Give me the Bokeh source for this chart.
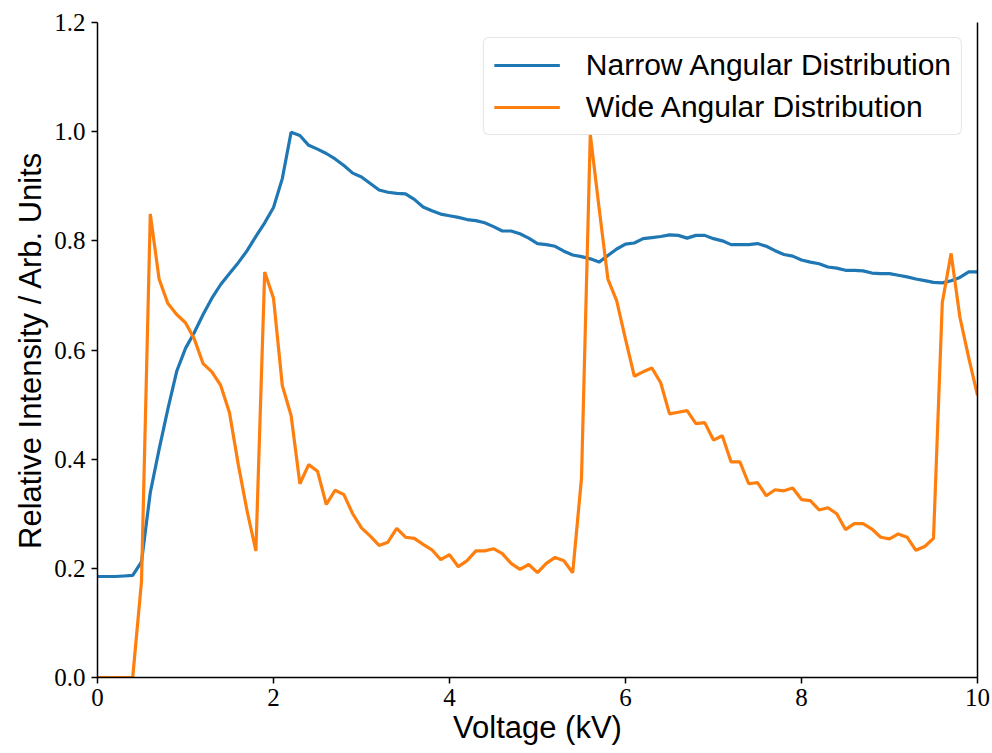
from bokeh.plotting import figure
from bokeh.models import Range1d, FixedTicker, LinearAxis, Legend, LegendItem, PrintfTickFormatter
from bokeh.embed import file_html
from bokeh.resources import INLINE

voltage = [round(0.1 * i, 1) for i in range(101)]

narrow = [0.185, 0.185, 0.185, 0.186, 0.187, 0.212, 0.339, 0.418, 0.492, 0.561,
          0.603, 0.632, 0.665, 0.695, 0.720, 0.740, 0.760, 0.782, 0.808, 0.833,
          0.861, 0.914, 0.999, 0.993, 0.975, 0.968, 0.960, 0.950, 0.938, 0.924,
          0.917, 0.905, 0.893, 0.889, 0.887, 0.886, 0.876, 0.862, 0.855, 0.849,
          0.846, 0.843, 0.839, 0.837, 0.833, 0.826, 0.818, 0.818, 0.813, 0.805,
          0.795, 0.793, 0.790, 0.781, 0.774, 0.771, 0.767, 0.761, 0.773, 0.785,
          0.794, 0.796, 0.804, 0.806, 0.808, 0.811, 0.810, 0.805, 0.810, 0.810,
          0.804, 0.800, 0.793, 0.793, 0.793, 0.795, 0.790, 0.782, 0.775, 0.772,
          0.765, 0.761, 0.758, 0.752, 0.750, 0.746, 0.746, 0.745, 0.741, 0.740,
          0.740, 0.737, 0.734, 0.730, 0.727, 0.724, 0.723, 0.727, 0.733, 0.743,
          0.743]

wide = [0.0, 0.0, 0.0, 0.0, 0.0, 0.176, 0.849, 0.730, 0.685, 0.665,
        0.650, 0.620, 0.575, 0.560, 0.535, 0.485, 0.390, 0.305, 0.232, 0.743,
        0.695, 0.535, 0.480, 0.355, 0.390, 0.378, 0.317, 0.343, 0.335, 0.300,
        0.274, 0.259, 0.242, 0.248, 0.273, 0.257, 0.255, 0.244, 0.234, 0.216,
        0.225, 0.203, 0.214, 0.232, 0.232, 0.236, 0.227, 0.209, 0.198, 0.207,
        0.192, 0.209, 0.220, 0.214, 0.192, 0.365, 0.995, 0.860, 0.730, 0.690,
        0.620, 0.552, 0.560, 0.567, 0.540, 0.483, 0.486, 0.489, 0.465, 0.467,
        0.435, 0.443, 0.395, 0.395, 0.355, 0.357, 0.333, 0.344, 0.342, 0.347,
        0.326, 0.324, 0.307, 0.311, 0.300, 0.271, 0.282, 0.282, 0.272, 0.257,
        0.254, 0.263, 0.257, 0.233, 0.240, 0.255, 0.687, 0.777, 0.660, 0.586,
        0.517]

series_names = ["Narrow Angular Distribution", "Wide Angular Distribution"]
series_colors = ["#1f77b4", "#ff7f0e"]
x_ticks = [0, 2, 4, 6, 8, 10]
y_ticks = [0.0, 0.2, 0.4, 0.6, 0.8, 1.0, 1.2]

SANS = "Liberation Sans"
SERIF = "Liberation Serif"

p = figure(width=992, height=753, output_backend="svg", toolbar_location=None,
           x_range=Range1d(0, 10), y_range=Range1d(0, 1.2),
           min_border_left=97, min_border_right=15, min_border_top=22, min_border_bottom=76)
p.outline_line_color = None
p.xgrid.visible = False
p.ygrid.visible = False
p.background_fill_color = "white"
p.border_fill_color = "white"

r1 = p.line(voltage, narrow, line_color=series_colors[0], line_width=3.2)
r2 = p.line(voltage, wide, line_color=series_colors[1], line_width=3.2)

for ax in (p.xaxis[0], p.yaxis[0]):
    ax.axis_line_color = "black"
    ax.axis_line_width = 1.5
    ax.major_tick_line_color = "black"
    ax.major_tick_line_width = 1.5
    ax.major_tick_out = 6
    ax.major_tick_in = 0
    ax.minor_tick_line_color = None
    ax.major_label_text_font = SERIF
    ax.major_label_text_font_size = "25px"
    ax.major_label_text_color = "black"
    ax.axis_label_text_font = SANS
    ax.axis_label_text_font_size = "31px"
    ax.axis_label_text_font_style = "normal"
    ax.axis_label_text_color = "black"

p.xaxis[0].ticker = FixedTicker(ticks=x_ticks)
p.yaxis[0].ticker = FixedTicker(ticks=y_ticks)
p.yaxis[0].formatter = PrintfTickFormatter(format="%.1f")
p.xaxis[0].axis_label = "Voltage (kV)"
p.yaxis[0].axis_label = "Relative Intensity / Arb. Units"
p.xaxis[0].major_label_standoff = 5
p.xaxis[0].axis_label_standoff = 1
p.yaxis[0].major_label_standoff = 6
p.yaxis[0].axis_label_standoff = 3

right = LinearAxis(ticker=FixedTicker(ticks=[]), axis_line_color="black", axis_line_width=1.5,
                   major_tick_line_color=None, minor_tick_line_color=None,
                   major_label_text_font_size="0px", major_tick_out=0, major_label_standoff=0)
p.add_layout(right, "right")

legend = Legend(items=[LegendItem(label=series_names[0], renderers=[r1]),
                       LegendItem(label=series_names[1], renderers=[r2])],
                location="top_right", margin=15, padding=10, spacing=8,
                glyph_width=66, glyph_height=28, label_height=28, label_standoff=26,
                label_text_font=SANS, label_text_font_size="30px", label_text_color="black",
                border_line_color="#cccccc", border_line_width=1.5,
                background_fill_color="white", background_fill_alpha=0.8)
try:
    legend.border_radius = 6
except Exception:
    pass
p.add_layout(legend, "center")

open("out.html", "w").write(file_html(p, INLINE))
